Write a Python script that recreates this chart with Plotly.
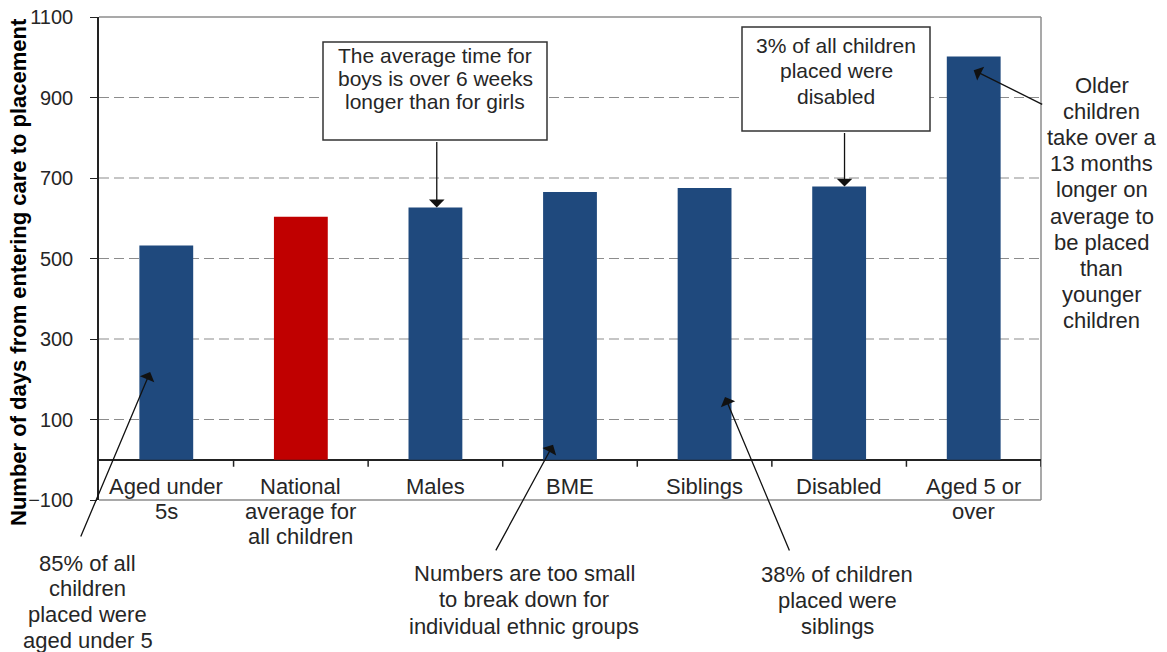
import plotly.graph_objects as go

# Average days from entering care to placement, by group
categories = ["Aged under 5s", "National average", "Males", "BME", "Siblings", "Disabled", "Aged 5 or over"]
axis_labels = [
    ["Aged under", "5s"],
    ["National", "average for", "all children"],
    ["Males"],
    ["BME"],
    ["Siblings"],
    ["Disabled"],
    ["Aged 5 or", "over"],
]
days = [532, 604, 627, 665, 675, 679, 1002]
bar_colors = ["#1F497D", "#C00000", "#1F497D", "#1F497D", "#1F497D", "#1F497D", "#1F497D"]

y_ticks = [-100, 100, 300, 500, 700, 900, 1100]
grid_values = [100, 300, 500, 700, 900]

W, H = 1167, 652
ML, MR, MT, MB = 99, 126, 17, 152
PW, PH = W - ML - MR, H - MT - MB

FONT = "Liberation Sans, Arial, sans-serif"
TXT = "#262626"


def px_x(p):
    return (p - ML) / PW


def px_y(p):
    return (H - MB - p) / PH


fig = go.Figure(
    go.Bar(
        x=list(range(len(categories))),
        y=days,
        marker=dict(color=bar_colors, line=dict(width=0)),
        width=0.4,
        hovertext=categories,
    )
)

annotations = []


def text_block(lines, x, y_first, step, xref="paper", size=22, color=TXT):
    for i, line in enumerate(lines):
        annotations.append(dict(
            text=line, x=x, xref=xref, y=px_y(y_first + i * step), yref="paper",
            xanchor="center", yanchor="middle", showarrow=False,
            font=dict(family=FONT, size=size, color=color),
        ))


# category labels sit between the zero line and the bottom of the frame
for i, lines in enumerate(axis_labels):
    text_block(lines, i, 486, 25.3, xref="x")

# callout boxes
shapes = []
for x0, x1, y0, y1 in [(323, 547, 42, 140), (742, 930, 27, 131)]:
    shapes.append(dict(type="rect", xref="paper", yref="paper",
                       x0=px_x(x0), x1=px_x(x1), y0=px_y(y0), y1=px_y(y1),
                       fillcolor="white", line=dict(color="#333333", width=1.5), layer="above"))

text_block(["The average time for", "boys is over 6 weeks", "longer than for girls"], px_x(435), 55, 23.4, size=21)
text_block(["3% of all children", "placed were", "disabled"], px_x(836), 45, 25.8, size=21)
text_block(["Older", "children", "take over a", "13 months", "longer on", "average to",
            "be placed", "than", "younger", "children"], px_x(1101.5), 85, 26.2)
text_block(["85% of all", "children", "placed were", "aged under 5"], px_x(87.5), 563, 25.8)
text_block(["Numbers are too small", "to break down for", "individual ethnic groups"], px_x(524), 573, 26.8)
text_block(["38% of children", "placed were", "siblings"], px_x(837), 574, 26.4)

# arrows pointing from the notes into the bars
arrow_specs = [
    (-0.12, 218, -70, 166),
    (2.01, days[2], 0, -67),
    (2.874, 37, -58, 107),
    (4.152, 156, 65, 155),
    (5.04, days[5], 0, -55),
    (6.0, 968, 70, 35),
]
for x, y, ax, ay in arrow_specs:
    annotations.append(dict(
        text="", x=x, y=y, xref="x", yref="y", ax=ax, ay=ay,
        showarrow=True, arrowhead=1, arrowsize=2.0, arrowwidth=1.3, arrowcolor="#111111",
    ))

# y-axis title
annotations.append(dict(
    text="<b>Number of days from entering care to placement</b>",
    x=px_x(18), y=px_y(272), xref="paper", yref="paper", textangle=-90,
    xanchor="center", yanchor="middle", showarrow=False,
    font=dict(family=FONT, size=22, color="#000000"),
))

# frame: grey top, right and bottom edges
for x0, y0, x1, y1 in [(0, 1, 1, 1), (1, 0, 1, 1), (0, 0, 1, 0)]:
    shapes.append(dict(type="line", xref="paper", yref="paper", x0=x0, y0=y0, x1=x1, y1=y1,
                       line=dict(color="#8C8C8C", width=1.5), layer="below"))

# dashed gridlines
for g in grid_values:
    shapes.append(dict(type="line", xref="paper", yref="y", x0=0, x1=1, y0=g, y1=g,
                       line=dict(color="#8C8C8C", width=1.2, dash="10px,5px"), layer="below"))

# category-boundary ticks hanging below the zero line
for b in [0.5, 1.5, 2.5, 3.5, 4.5, 5.5, 6.5]:
    shapes.append(dict(type="line", xref="x", yref="y", ysizemode="pixel", yanchor=0,
                       x0=b, x1=b, y0=0, y1=-7, line=dict(color="#222222", width=1.5)))

fig.update_layout(
    width=W, height=H,
    margin=dict(l=ML, r=MR, t=MT, b=MB, pad=0),
    paper_bgcolor="white", plot_bgcolor="white",
    showlegend=False,
    shapes=shapes,
    annotations=annotations,
    font=dict(family=FONT, color=TXT),
    xaxis=dict(range=[-0.5, 6.5], showticklabels=False, showgrid=False, zeroline=False,
               showline=False, ticks="", automargin=False),
    yaxis=dict(range=[-100, 1100], tickvals=y_ticks, showgrid=False, automargin=False,
               zeroline=True, zerolinecolor="#222222", zerolinewidth=1.5,
               showline=True, linecolor="#222222", linewidth=1.5,
               ticks="outside", ticklen=7, tickcolor="#222222", tickwidth=1.2,
               ticklabelstandoff=13,
               tickfont=dict(family=FONT, size=20, color=TXT)),
)

fig.write_html("out.html")
